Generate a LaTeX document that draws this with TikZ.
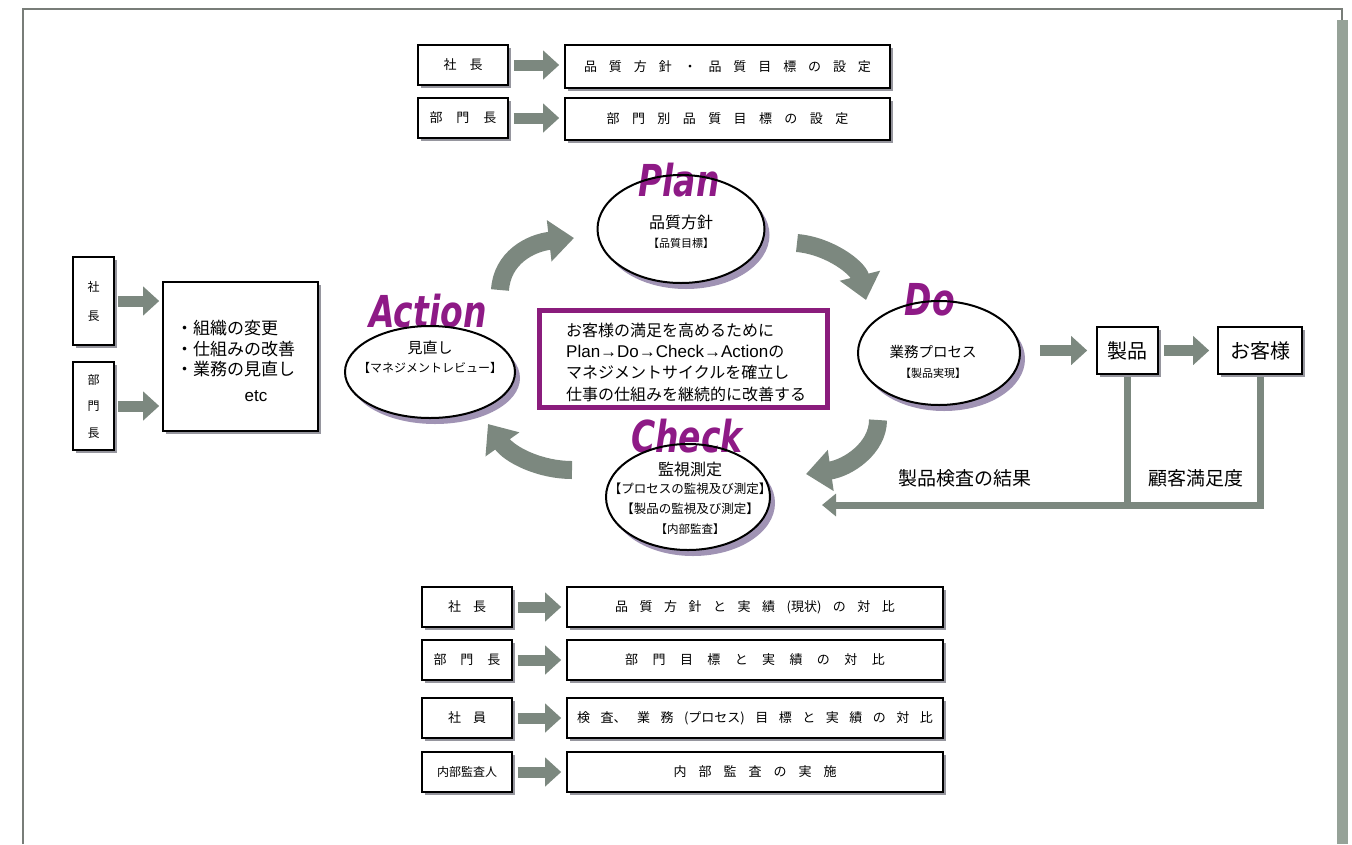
\documentclass[tikz,border=0pt]{standalone}
\usepackage{fontspec}
\usepackage{graphicx}
\setmainfont{Noto Sans CJK JP}
\newfontfamily\lsans{Liberation Sans}
\newfontfamily\ttlfont{DejaVu Sans}
\usetikzlibrary{shapes.geometric,arrows.meta,shadows}
\definecolor{arrowgray}{RGB}{124,136,127}
\definecolor{boxpurple}{RGB}{138,28,124}
\definecolor{ttlpurple}{RGB}{142,26,134}
\definecolor{boxshadow}{RGB}{150,150,158}
\definecolor{ellshadow}{RGB}{160,147,180}
\definecolor{framegray}{RGB}{120,125,120}
\definecolor{bandgray}{RGB}{150,162,152}
\newlength\sgap
\setlength\sgap{13pt}
\def\spaced#1{\spacedA#1\relax}
\def\spacedA#1{#1\futurelet\spnext\spacedB}
\def\spacedB{\ifx\spnext\relax\expandafter\spacedEnd\else\hspace{\sgap}\expandafter\spacedA\fi}
\def\spacedEnd\relax{}
\newcommand\fsz[2]{\fontsize{#1}{#2}\selectfont}
\begin{document}
\begin{tikzpicture}[x=1pt,y=-1pt,
  box/.style={draw=black, line width=1.6pt, fill=white, inner sep=0pt,
    drop shadow={shadow xshift=3pt,shadow yshift=-3pt,fill=boxshadow,opacity=1}},
  ell/.style={ellipse, fill=white, inner sep=0pt,
    drop shadow={shadow xshift=5pt,shadow yshift=-6pt,fill=ellshadow,opacity=1}},
  ellline/.style={draw=black, line width=2pt},
  barrow/.style={line width=11pt, draw=arrowgray, -{Triangle[width=28pt,length=16pt]}},
  cyc/.style={line width=18pt, draw=arrowgray, -{Triangle[width=40pt,length=25pt]}},
  fbline/.style={line width=7pt, draw=arrowgray},
  ttl/.style={text=ttlpurple, inner sep=0pt, font=\ttlfont\bfseries\itshape\fsz{44}{44}},
  txt/.style={inner sep=0pt},
  lbl/.style={font=\fsz{13}{13}}
]
\useasboundingbox (0,0) rectangle (1352,844);
% frame
\draw[framegray, line width=2pt] (23,844) -- (23,9) -- (1342,9) -- (1342,20);
\fill[bandgray] (1337,20) rectangle (1348,844);

% top rows
\node[box, lbl, minimum width=90pt, minimum height=40pt] (ts1) at (463,65) {\setlength\sgap{13pt}\spaced{社長}};
\node[box, lbl, minimum width=325pt, minimum height=43pt] (tb1) at (727.5,66.5) {\setlength\sgap{11.9pt}\spaced{品質方針・品質目標の設定}};
\node[box, lbl, minimum width=90pt, minimum height=40pt] (ts2) at (463,118) {\setlength\sgap{14pt}\spaced{部門長}};
\node[box, lbl, minimum width=325pt, minimum height=42pt] (tb2) at (727.5,119) {\setlength\sgap{12.4pt}\spaced{部門別品質目標の設定}};
\draw[barrow] ([xshift=5pt]ts1.east) -- ([xshift=-5pt]ts1.east -| tb1.west);
\draw[barrow] ([xshift=5pt]ts2.east) -- ([xshift=-5pt]ts2.east -| tb2.west);

% bottom rows
\node[box, lbl, minimum width=90pt, minimum height=40pt] (bs1) at (467,607) {\setlength\sgap{12pt}\spaced{社長}};
\node[box, lbl, minimum width=376pt, minimum height=40pt] (bb1) at (755,607) {\setlength\sgap{11.5pt}\spaced{品質方針と実績{(現状)}の対比}};
\node[box, lbl, minimum width=90pt, minimum height=40pt] (bs2) at (467,660) {\setlength\sgap{14pt}\spaced{部門長}};
\node[box, lbl, minimum width=376pt, minimum height=40pt] (bb2) at (755,660) {\setlength\sgap{14.4pt}\spaced{部門目標と実績の対比}};
\node[box, lbl, minimum width=90pt, minimum height=40pt] (bs3) at (467,718) {\setlength\sgap{12pt}\spaced{社員}};
\node[box, lbl, minimum width=376pt, minimum height=40pt] (bb3) at (755,718) {\setlength\sgap{10.5pt}\spaced{検{査、}業務{(プロセス)}目標と実績の対比}};
\node[box, minimum width=90pt, minimum height=40pt, font=\fsz{12}{12}] (bs4) at (467,772) {内部監査人};
\node[box, lbl, minimum width=376pt, minimum height=40pt] (bb4) at (755,772) {\setlength\sgap{12pt}\spaced{内部監査の実施}};
\foreach \i in {1,2,3,4}{
  \draw[barrow] ([xshift=5pt]bs\i.east) -- ([xshift=-5pt]bs\i.east -| bb\i.west);
}

% left side
\node[box, minimum width=41pt, minimum height=88pt, align=center, font=\fsz{12}{29}] (ls1) at (93.5,301) {社\\長};
\node[box, minimum width=41pt, minimum height=88pt, align=center, font=\fsz{12}{26.5}] (ls2) at (93.5,406) {部\\門\\長};
\node[box, minimum width=155pt, minimum height=149pt] (lbig) at (240.5,356.5) {};
\node[txt, anchor=west, align=left, font=\fsz{17}{20.5}] (lbtext) at (176,349) {・組織の変更\\・仕組みの改善\\・業務の見直し};
\node[txt, font=\lsans\fsz{17}{17}] (etc) at (256,396) {etc};
\draw[barrow] ([xshift=3pt]ls1.east) -- ([xshift=-3pt]ls1.east -| lbig.west);
\draw[barrow] ([xshift=3pt]ls2.east) -- ([xshift=-3pt]ls2.east -| lbig.west);

% center purple box
\node[draw=boxpurple, line width=5pt, fill=white, minimum width=288pt, minimum height=97pt, inner sep=0pt] (cbox) at (683.5,359) {};
\node[txt, anchor=west, align=left, font=\fsz{16}{21.3}] (ctext) at (566,362)
  {お客様の満足を高めるために\\{\lsans\fsz{17}{21.3}Plan→Do→Check→Action}の\\マネジメントサイクルを確立し\\仕事の仕組みを継続的に改善する};

% ellipses
\node[ell, minimum width=167pt, minimum height=108pt] (plan) at (681,229) {};
\node[ell, minimum width=170pt, minimum height=92pt] (act) at (430,372) {};
\node[ell, minimum width=162pt, minimum height=104pt] (do) at (939,353) {};
\node[ell, minimum width=164pt, minimum height=106pt] (chk) at (688,497) {};

\node[ttl] (plant) at (679,180) {\scalebox{0.75}[1]{Plan}};
\node[ttl] (actt) at (428,311) {\scalebox{0.75}[1]{Action}};
\node[ttl] (dot) at (930,300) {\scalebox{0.75}[1]{Do}};
\node[ttl] (chkt) at (687,436) {\scalebox{0.75}[1]{Check}};

\draw[ellline] (plan.center) ellipse [x radius=83.5pt, y radius=54pt];
\draw[ellline] (act.center) ellipse [x radius=85pt, y radius=46pt];
\draw[ellline] (do.center) ellipse [x radius=81pt, y radius=52pt];
\draw[ellline] (chk.center) ellipse [x radius=82pt, y radius=53pt];

\node[txt, font=\fsz{16}{16}] (plan1) at (681,222) {品質方針};
\node[txt, font=\fsz{11}{11}] (plan2) at (681,243) {【品質目標】};
\node[txt, font=\fsz{15}{15}] (act1) at (430,348) {見直し};
\node[txt, font=\fsz{12}{12}] (act2) at (430,368) {【マネジメントレビュー】};
\node[txt, font=\fsz{14.5}{14.5}] (do1) at (933,352) {業務プロセス};
\node[txt, font=\fsz{11}{11}] (do2) at (933,373) {【製品実現】};
\node[txt, font=\fsz{16}{16}] (chk1) at (690,469) {監視測定};
\node[txt, font=\fsz{12.5}{12.5}] (chk2) at (690,489) {【プロセスの監視及び測定】};
\node[txt, font=\fsz{12.5}{12.5}] (chk3) at (690,509) {【製品の監視及び測定】};
\node[txt, font=\fsz{11.5}{11.5}] (chk4) at (690,529) {【内部監査】};

% cycle arrows
\coordinate (c1a) at (500,290); \coordinate (c1b) at (574,238);
\coordinate (c2a) at (797,243); \coordinate (c2b) at (866,300);
\coordinate (c3a) at (878,420); \coordinate (c3b) at (806,474);
\coordinate (c4a) at (572,470); \coordinate (c4b) at (488,424);
\draw[cyc] (c1a) .. controls (502,258) and (530,243) .. (c1b);
\draw[cyc] (c2a) .. controls (830,246) and (858,268) .. (c2b);
\draw[cyc] (c3a) .. controls (878,448) and (848,468) .. (c3b);
\draw[cyc] (c4a) .. controls (540,470) and (510,455) .. (c4b);

% product flow
\node[box, minimum width=61pt, minimum height=47pt, font=\fsz{20}{20}] (seihin) at (1127.5,350.5) {製品};
\node[box, minimum width=84pt, minimum height=47pt, font=\fsz{20}{20}] (kyaku) at (1260,350.5) {お客様};
\coordinate (doout) at (1040,350.5);
\draw[barrow] (doout) -- ([xshift=-9pt]seihin.west);
\draw[barrow] ([xshift=5pt]seihin.east) -- ([xshift=-8pt]kyaku.west);
\coordinate (fbtip) at (822,505);
\draw[fbline] ([yshift=-2pt]seihin.south) -- (seihin.south |- fbtip);
\draw[fbline, -{Triangle[width=22pt,length=14pt]}] ([yshift=-2pt]kyaku.south) |- (fbtip);
\node[txt, font=\fsz{19}{19}] (lab1) at (965,478) {製品検査の結果};
\node[txt, font=\fsz{19}{19}] (lab2) at (1196,478) {顧客満足度};
\end{tikzpicture}
\end{document}
